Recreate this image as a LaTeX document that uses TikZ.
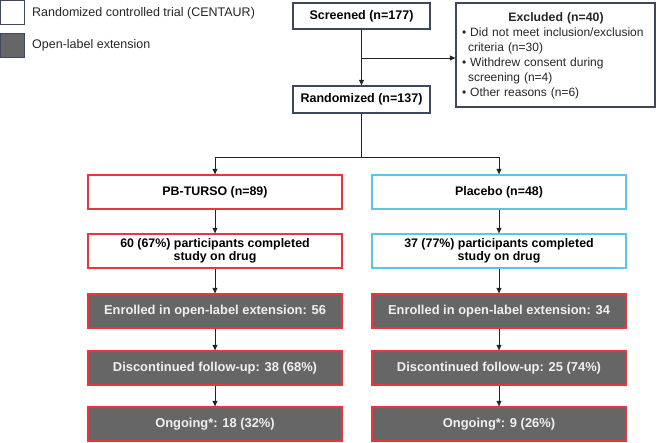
\documentclass[tikz,border=0pt]{standalone}
\usepackage{fontspec}
\setmainfont{Liberation Sans}
\usetikzlibrary{arrows.meta}
\definecolor{bred}{RGB}{232,53,62}
\definecolor{bcyan}{RGB}{91,197,232}
\definecolor{bgray}{RGB}{102,102,102}
\definecolor{bnavy}{RGB}{62,72,92}
\definecolor{bline}{RGB}{35,35,35}
\begin{document}
\begin{tikzpicture}[x=1pt,y=-1pt,
  font=\fontsize{12.5}{13}\selectfont,
  topbox/.style={draw=bnavy,line width=1.3pt,fill=white,minimum width=137pt,minimum height=26pt,inner sep=2pt,font=\fontsize{12.5}{13}\selectfont\bfseries},
  redbox/.style={draw=bred,line width=1.3pt,fill=white,minimum width=254pt,minimum height=34pt,inner sep=2pt,align=center,font=\fontsize{12.4}{13}\selectfont\bfseries},
  cyanbox/.style={redbox,draw=bcyan},
  olebox/.style={redbox,fill=bgray,text=white!94!black,font=\fontsize{12.9}{13}\selectfont\bfseries},
  legbox/.style={draw=bnavy,line width=1.3pt,minimum width=24pt,minimum height=24pt,inner sep=0pt},
  legtext/.style={anchor=west,inner sep=0pt,font=\fontsize{12.5}{14}\selectfont,text=black!85},
  conn/.style={draw=bline,line width=0.9pt},
  arr/.style={conn,-{Triangle[length=5.5pt,width=5pt]}}
]
\useasboundingbox (0,0) rectangle (658,442);
% legend
\node[legbox,fill=white] (lg1) at (12.5,12.5) {};
\node[legbox,fill=bgray] (lg2) at (12.5,45.5) {};
\node[legtext] (lt1) at (32,13) {Randomized controlled trial (CENTAUR)};
\node[legtext] (lt2) at (32,45) {Open-label extension};
% top
\node[topbox] (scr) at (361.5,16) {Screened (n=177)};
\node[topbox,minimum height=27pt] (rand) at (361.5,99.5) {Randomized (n=137)};
\node[draw=bnavy,line width=1.3pt,minimum width=199pt,minimum height=104pt,inner sep=0pt] (excl) at (555.5,55) {};
\node[text width=188pt,inner sep=0pt,align=left,font=\fontsize{12}{15}\selectfont,text=black!85] (excltxt) at (556,56)
 {{\centering\bfseries\fontsize{12.3}{15}\selectfont Excluded (n=40)\par}
  \textbullet\ Did not meet inclusion/exclusion\par
  \hspace*{6pt}criteria (n=30)\par
  \textbullet\ Withdrew consent during\par
  \hspace*{6pt}screening (n=4)\par
  \textbullet\ Other reasons (n=6)};
% arms
\node[redbox] (pb1) at (215,192) {PB-TURSO (n=89)};
\node[redbox] (pb2) at (215,251) {60 (67\%) participants completed\\study on drug};
\node[olebox] (pb3) at (215,311) {Enrolled in open-label extension: 56};
\node[olebox] (pb4) at (215,368) {Discontinued follow-up: 38 (68\%)};
\node[olebox] (pb5) at (215,424) {Ongoing*: 18 (32\%)};
\node[cyanbox] (pl1) at (499,192) {Placebo (n=48)};
\node[cyanbox] (pl2) at (499,251) {37 (77\%) participants completed\\study on drug};
\node[olebox] (pl3) at (499,311) {Enrolled in open-label extension: 34};
\node[olebox] (pl4) at (499,368) {Discontinued follow-up: 25 (74\%)};
\node[olebox] (pl5) at (499,424) {Ongoing*: 9 (26\%)};
% connectors
\coordinate (br) at (361.5,58);
\coordinate (sp) at (361.5,157);
\draw[arr] (scr.south) -- (rand.north);
\draw[arr] (br) -- (br -| excl.west);
\draw[conn] (rand.south) -- (sp);
\draw[arr] (sp) -| (pb1.north);
\draw[arr] (sp) -| (pl1.north);
\draw[arr] (pb1) -- (pb2);
\draw[arr] (pb2) -- (pb3);
\draw[arr] (pb3) -- (pb4);
\draw[arr] (pb4) -- (pb5);
\draw[arr] (pl1) -- (pl2);
\draw[arr] (pl2) -- (pl3);
\draw[arr] (pl3) -- (pl4);
\draw[arr] (pl4) -- (pl5);
\end{tikzpicture}
\end{document}
